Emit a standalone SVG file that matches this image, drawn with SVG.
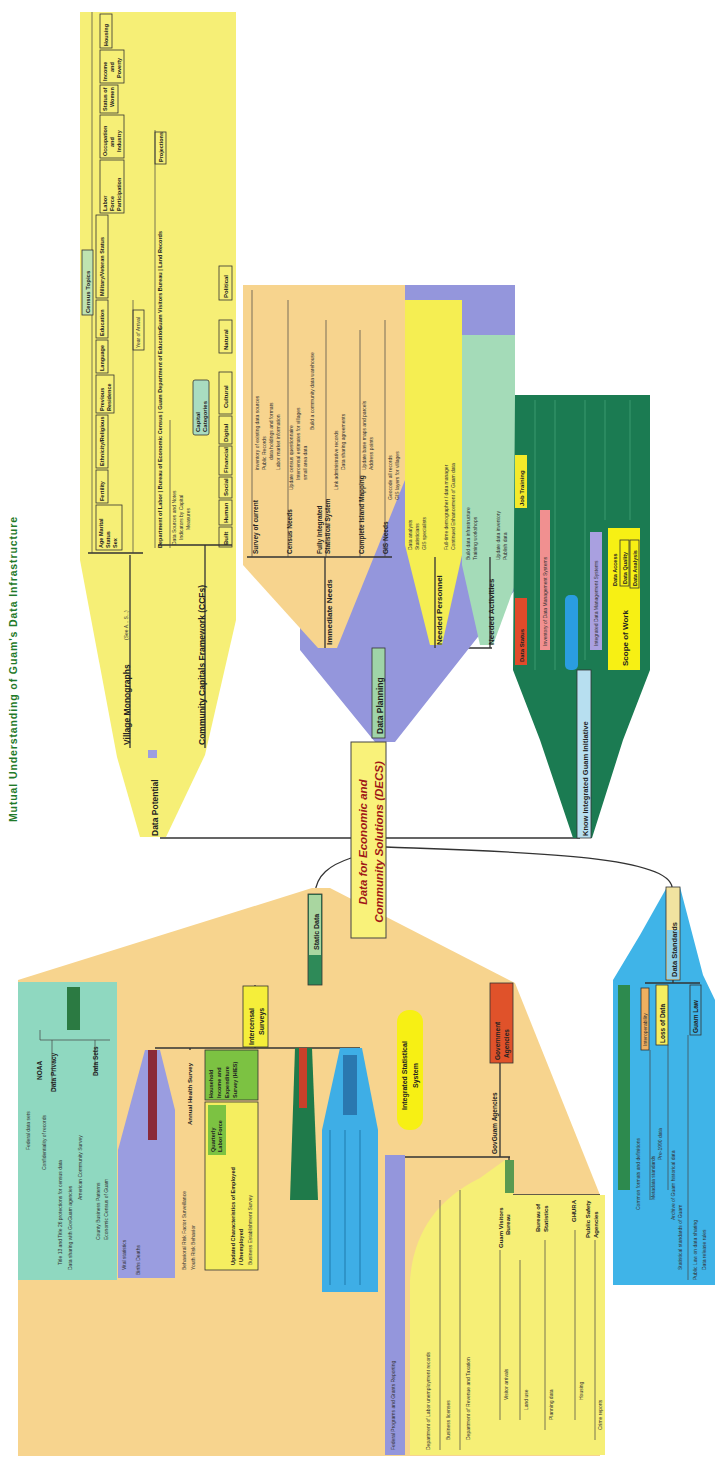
<svg xmlns="http://www.w3.org/2000/svg" width="720" height="1468" viewBox="0 0 720 1468">
<style>
.t{font-family:"Liberation Sans",Arial,sans-serif;font-weight:bold;fill:#222}
.m{font-size:8.5px}
.n{font-size:6.5px}
.s{font-family:"Liberation Sans",Arial,sans-serif;font-size:5px;fill:#333}
.ln{stroke:#333;stroke-width:1.3;fill:none}
.thin{stroke:#444;stroke-width:0.7;fill:none}
.bx{stroke:#333;stroke-width:0.8}
</style>
<rect width="720" height="1468" fill="#fff"/>
<text class="t" transform="translate(17,822) rotate(-90)" font-size="10.5" fill="#1f7a2a" style="fill:#1f7a2a" textLength="305">Mutual Understanding of Guam's Data Infrastructure</text>

<!-- connectors -->
<g id="connectors">
<path class="ln" d="M160,838 H351 M386,838 H580" stroke-width="2"/>
<path class="ln" d="M386,847 C520,852 668,855 672,887" stroke-width="2"/>
<path class="ln" d="M351,858 C330,865 316,875 315,894" stroke-width="1.5"/>
<path class="ln" d="M378,737 V742"/>
<path class="ln" d="M160,748 V837 M128,748 H205"/>
<path class="ln" d="M325,648 H492"/>
<path class="ln" d="M75,985 H510"/>
</g>

<!-- Data Potential -->
<g id="data-potential">
<polygon points="80,12 236,12 236,620 205,755 166,837 140,837 117,757 80,560" fill="#f6ef76"/>
<rect x="148" y="750" width="9" height="8" fill="#9c9ee0"/>
<text class="t m" transform="translate(158,836) rotate(-90)">Data Potential</text>
<path class="ln" d="M130,555 V748 M205,545 V748 M88,553 H143 M158,545 H232"/>
<text class="t" font-size="8.5" transform="translate(130,745) rotate(-90)">Village Monographs</text>
<text class="s" transform="translate(128,640) rotate(-90)">(See A... S...)</text>
<text class="t" font-size="8.5" transform="translate(205,745) rotate(-90)">Community Capitals Framework (CCFs)</text>
<path class="thin" d="M92,553 V12 M133,553 V300"/>
<g class="bxs">
<rect class="bx" x="96" y="505" width="26" height="45" fill="none"/>
<text class="t" font-size="5.5" transform="translate(103,548) rotate(-90)">Age Marital</text>
<text class="t" font-size="5.5" transform="translate(110,548) rotate(-90)">Status</text>
<text class="t" font-size="5.5" transform="translate(117,548) rotate(-90)">Sex</text>
<rect class="bx" x="96" y="470" width="12" height="33" fill="none"/>
<text class="t" font-size="5.5" transform="translate(104,501) rotate(-90)">Fertility</text>
<rect class="bx" x="96" y="415" width="12" height="53" fill="none"/>
<text class="t" font-size="5.5" transform="translate(104,466) rotate(-90)">Ethnicity/Religious</text>
<rect class="bx" x="96" y="375" width="18" height="38" fill="none"/>
<text class="t" font-size="5.5" transform="translate(104,411) rotate(-90)">Previous</text>
<text class="t" font-size="5.5" transform="translate(111,411) rotate(-90)">Residence</text>
<rect class="bx" x="96" y="340" width="12" height="33" fill="none"/>
<text class="t" font-size="5.5" transform="translate(104,371) rotate(-90)">Language</text>
<rect class="bx" x="96" y="300" width="12" height="38" fill="none"/>
<text class="t" font-size="5.5" transform="translate(104,336) rotate(-90)">Education</text>
<rect class="bx" x="96" y="215" width="12" height="83" fill="none"/>
<text class="t" font-size="5.5" transform="translate(104,296) rotate(-90)">Military/Veteran Status</text>
<rect class="bx" x="100" y="160" width="24" height="53" fill="none"/>
<text class="t" font-size="5.5" transform="translate(107,211) rotate(-90)">Labor</text>
<text class="t" font-size="5.5" transform="translate(114,211) rotate(-90)">Force</text>
<text class="t" font-size="5.5" transform="translate(121,211) rotate(-90)">Participation</text>
<rect class="bx" x="100" y="115" width="24" height="43" fill="none"/>
<text class="t" font-size="5.5" transform="translate(107,156) rotate(-90)">Occupation</text>
<text class="t" font-size="5.5" transform="translate(114,147) rotate(-90)">and</text>
<text class="t" font-size="5.5" transform="translate(121,152) rotate(-90)">Industry</text>
<rect class="bx" x="100" y="85" width="18" height="28" fill="none"/>
<text class="t" font-size="5.5" transform="translate(107,111) rotate(-90)">Status of</text>
<text class="t" font-size="5.5" transform="translate(114,107) rotate(-90)">Women</text>
<rect class="bx" x="100" y="50" width="24" height="33" fill="none"/>
<text class="t" font-size="5.5" transform="translate(107,81) rotate(-90)">Income</text>
<text class="t" font-size="5.5" transform="translate(114,72) rotate(-90)">and</text>
<text class="t" font-size="5.5" transform="translate(121,78) rotate(-90)">Poverty</text>
<rect class="bx" x="100" y="14" width="12" height="34" fill="none"/>
<text class="t" font-size="5.5" transform="translate(108,46) rotate(-90)">Housing</text>
</g>
<rect class="bx" x="82" y="250" width="11" height="65" fill="#bfe3b0"/>
<text class="t" font-size="6" transform="translate(90,313) rotate(-90)">Census Topics</text>
<rect class="bx" x="133" y="310" width="11" height="40" fill="none"/>
<text class="s" transform="translate(140,348) rotate(-90)">Year of Arrival</text>
<!-- CCF children -->
<path class="thin" d="M155,548 V130 M170,548 V420"/>
<text class="t" font-size="5.5" transform="translate(162,548) rotate(-90)">Department of Labor | Bureau of Economic Census | Guam Department of Education</text>
<text class="t" font-size="5.5" transform="translate(162,330) rotate(-90)">Guam Visitors Bureau | Land Records</text>
<rect class="bx" x="155" y="132" width="11" height="32" fill="none"/>
<text class="t" font-size="5.5" transform="translate(163,162) rotate(-90)">Projections</text>
<text class="s" transform="translate(176,545) rotate(-90)">Data Sources and Notes</text>
<text class="s" transform="translate(183,540) rotate(-90)">Indicators by Capital</text>
<text class="s" transform="translate(190,530) rotate(-90)">Measures</text>
<rect class="bx" x="193" y="380" width="16" height="55" rx="2" fill="#a9dcc0"/>
<text class="t" font-size="6" transform="translate(200,432) rotate(-90)">Capital</text>
<text class="t" font-size="6" transform="translate(207,432) rotate(-90)">Categories</text>
<g>
<rect class="bx" x="219" y="527" width="13" height="20" fill="none"/>
<text class="t" font-size="6" transform="translate(228,545) rotate(-90)">Built</text>
<rect class="bx" x="219" y="500" width="13" height="25" fill="none"/>
<text class="t" font-size="6" transform="translate(228,523) rotate(-90)">Human</text>
<rect class="bx" x="219" y="477" width="13" height="21" fill="none"/>
<text class="t" font-size="6" transform="translate(228,496) rotate(-90)">Social</text>
<rect class="bx" x="219" y="446" width="13" height="29" fill="none"/>
<text class="t" font-size="6" transform="translate(228,473) rotate(-90)">Financial</text>
<rect class="bx" x="219" y="416" width="13" height="28" fill="none"/>
<text class="t" font-size="6" transform="translate(228,442) rotate(-90)">Digital</text>
<rect class="bx" x="219" y="372" width="13" height="42" fill="none"/>
<text class="t" font-size="6" transform="translate(228,408) rotate(-90)">Cultural</text>
<rect class="bx" x="219" y="320" width="13" height="33" fill="none"/>
<text class="t" font-size="6" transform="translate(228,350) rotate(-90)">Natural</text>
<rect class="bx" x="219" y="266" width="13" height="34" fill="none"/>
<text class="t" font-size="6" transform="translate(228,298) rotate(-90)">Political</text>
</g>
</g>

<!-- Data Planning -->
<g id="data-planning">
<polygon points="375,742 300,650 300,560 400,300 400,285 515,285 515,590 395,742" fill="#9496dc"/>
<polygon points="243,285 405,285 405,480 337,648 318,648 243,565" fill="#f7d48e"/>
<polygon points="405,300 462,300 462,555 442,645 430,645 405,545" fill="#f5ee52"/>
<polygon points="462,335 515,335 515,585 493,645 480,645 462,565" fill="#a4dbb8"/>
<rect class="bx" x="372" y="648" width="13" height="90" fill="#9fd4a8"/>
<text class="t" font-size="8.5" transform="translate(383,734) rotate(-90)">Data Planning</text>
<path class="ln" d="M325,557 V648 M247,557 H392 M435,557 V648 M490,557 V648"/>
<text class="t" font-size="8" transform="translate(332,645) rotate(-90)">Immediate Needs</text>
<text class="t" font-size="8" transform="translate(442,645) rotate(-90)">Needed Personnel</text>
<text class="t" font-size="8" transform="translate(494,645) rotate(-90)">Needed Activities</text>
<path class="thin" d="M252,557 V290 M288,557 V300 M326,557 V320 M360,557 V330 M385,557 V320"/>
<text class="t" font-size="6.5" transform="translate(258,554) rotate(-90)">Survey of current</text>
<text class="t" font-size="6.5" transform="translate(292,554) rotate(-90)">Census Needs</text>
<text class="t" font-size="6.5" transform="translate(322,554) rotate(-90)">Fully Integrated</text>
<text class="t" font-size="6.5" transform="translate(330,554) rotate(-90)">Statistical System</text>
<text class="t" font-size="6.5" transform="translate(364,554) rotate(-90)">Complete Island Mapping</text>
<text class="t" font-size="6.5" transform="translate(388,554) rotate(-90)">GIS Needs</text>
<text class="s" transform="translate(259,470) rotate(-90)">inventory of existing data sources</text>
<text class="s" transform="translate(266,470) rotate(-90)">Public Records</text>
<text class="s" transform="translate(273,460) rotate(-90)">data holdings and formats</text>
<text class="s" transform="translate(280,470) rotate(-90)">Labor market information</text>
<text class="s" transform="translate(293,490) rotate(-90)">Update census questionnaire</text>
<text class="s" transform="translate(300,480) rotate(-90)">Intercensal estimates for villages</text>
<text class="s" transform="translate(307,480) rotate(-90)">small area data</text>
<text class="s" transform="translate(314,430) rotate(-90)">Build a community data warehouse</text>
<text class="s" transform="translate(338,490) rotate(-90)">Link administrative records</text>
<text class="s" transform="translate(345,470) rotate(-90)">Data sharing agreements</text>
<text class="s" transform="translate(366,470) rotate(-90)">Update base maps and parcels</text>
<text class="s" transform="translate(373,470) rotate(-90)">Address points</text>
<text class="s" transform="translate(392,500) rotate(-90)">Geocode all records</text>
<text class="s" transform="translate(399,500) rotate(-90)">GIS layers for villages</text>
<text class="s" transform="translate(412,550) rotate(-90)">Data analysts</text>
<text class="s" transform="translate(419,550) rotate(-90)">Statisticians</text>
<text class="s" transform="translate(426,550) rotate(-90)">GIS specialists</text>
<text class="s" transform="translate(448,550) rotate(-90)">Full-time demographer / data manager</text>
<text class="s" transform="translate(455,550) rotate(-90)">Continued Enhancement of Guam data</text>
<text class="s" transform="translate(470,560) rotate(-90)">Build data infrastructure</text>
<text class="s" transform="translate(477,560) rotate(-90)">Training workshops</text>
<text class="s" transform="translate(500,560) rotate(-90)">Update data inventory</text>
<text class="s" transform="translate(507,560) rotate(-90)">Publish data</text>
</g>

<!-- Know Integrated Guam Initiative -->
<g id="know-guam">
<polygon points="515,395 650,395 650,670 623,740 592,838 573,838 540,740 513,670" fill="#1b7b52"/>
<path d="M535,400 V670 M555,400 V670 M585,400 V660 M605,400 V520 M630,400 V520" stroke="#3a9a6e" stroke-width="1"/>
<rect class="bx" x="577" y="670" width="14" height="168" fill="#b7dff0"/>
<text class="t" font-size="7.5" transform="translate(588,836) rotate(-90)">Know Integrated Guam Initiative</text>
<rect x="515" y="455" width="12" height="53" fill="#f4ea2a"/>
<text class="t" font-size="6" transform="translate(524,506) rotate(-90)">Job Training</text>
<rect x="515" y="598" width="12" height="67" fill="#e04a2a"/>
<text class="t" font-size="6" transform="translate(524,662) rotate(-90)">Data Status</text>
<rect x="540" y="510" width="10" height="140" fill="#f09090"/>
<text class="s" transform="translate(547,646) rotate(-90)">Inventory of Data Management Systems</text>
<rect x="565" y="595" width="13" height="75" rx="5" fill="#2a9de0"/>
<rect x="590" y="532" width="12" height="118" fill="#a9a0e0"/>
<text class="s" transform="translate(598,646) rotate(-90)">Integrated Data Management Systems</text>
<rect x="608" y="528" width="32" height="142" fill="#f7f014"/>
<text class="t" font-size="8" transform="translate(628,666) rotate(-90)">Scope of Work</text>
<text class="t" font-size="5.5" transform="translate(617,586) rotate(-90)">Data Access</text>
<rect class="bx" x="620" y="540" width="9" height="46" fill="none"/>
<text class="t" font-size="5.5" transform="translate(627,584) rotate(-90)">Data Quality</text>
<rect class="bx" x="630" y="540" width="9" height="48" fill="none"/>
<text class="t" font-size="5.5" transform="translate(637,586) rotate(-90)">Data Analysis</text>
</g>

<!-- Static Data -->
<g id="static-data">
<polygon points="312,888 330,888 515,983 600,1195 600,1456 18,1456 18,980" fill="#f7d48e"/>
<rect x="18" y="982" width="99" height="298" fill="#8fd8c0"/>
<polygon points="145,1050 160,1050 175,1110 175,1278 118,1278 118,1150" fill="#9a9de0"/>
<rect x="148" y="1050" width="9" height="90" fill="#8a2a3a"/>
<rect class="bx" x="308" y="894" width="14" height="91" fill="#2e8a58"/>
<rect x="309" y="895" width="12" height="60" fill="#a9d6a0"/>
<text class="t" font-size="7" transform="translate(319,950) rotate(-90)">Static Data</text>
<rect x="67" y="987" width="13" height="43" fill="#2b7a42"/>
<path class="thin" d="M40,1030 V1040 H110 M52,1040 V1090 M95,1040 V1075"/>
<text class="t" font-size="6.5" transform="translate(42,1080) rotate(-90)">NOAA</text>
<text class="t" font-size="6.5" transform="translate(56,1092) rotate(-90)">Data Privacy</text>
<text class="t" font-size="6.5" transform="translate(98,1076) rotate(-90)">Data Sets</text>
<text class="s" transform="translate(30,1150) rotate(-90)">Federal data sets</text>
<text class="s" transform="translate(46,1170) rotate(-90)">Confidentiality of records</text>
<text class="s" transform="translate(62,1265) rotate(-90)">Title 13 and Title 26 protections for census data</text>
<text class="s" transform="translate(72,1270) rotate(-90)">Data sharing with GovGuam agencies</text>
<text class="s" transform="translate(82,1200) rotate(-90)">American Community Survey</text>
<text class="s" transform="translate(100,1240) rotate(-90)">County Business Patterns</text>
<text class="s" transform="translate(108,1240) rotate(-90)">Economic Census of Guam</text>
<text class="s" transform="translate(126,1270) rotate(-90)">Vital statistics</text>
<text class="s" transform="translate(140,1275) rotate(-90)">Births Deaths</text>
<path class="ln" d="M255,985 V1048 M155,1048 H360 M190,1048 V1050"/>
<rect class="bx" x="243" y="986" width="25" height="61" fill="#f5ee3a"/>
<text class="t" font-size="7" transform="translate(254,1045) rotate(-90)">Intercensal</text>
<text class="t" font-size="7" transform="translate(264,1035) rotate(-90)">Surveys</text>
<text class="t" font-size="6" transform="translate(192,1125) rotate(-90)">Annual Health Survey</text>
<text class="s" transform="translate(186,1270) rotate(-90)">Behavioral Risk Factor Surveillance</text>
<text class="s" transform="translate(195,1270) rotate(-90)">Youth Risk Behavior</text>
<rect class="bx" x="205" y="1050" width="53" height="50" fill="#7cc242"/>
<text class="t" font-size="5.5" transform="translate(213,1098) rotate(-90)">Household</text>
<text class="t" font-size="5.5" transform="translate(221,1098) rotate(-90)">Income and</text>
<text class="t" font-size="5.5" transform="translate(229,1098) rotate(-90)">Expenditure</text>
<text class="t" font-size="5.5" transform="translate(237,1098) rotate(-90)">Survey (HIES)</text>
<rect class="bx" x="205" y="1102" width="53" height="168" fill="#f5ee60"/>
<rect x="208" y="1105" width="18" height="50" fill="#7cc242"/>
<text class="t" font-size="5.5" transform="translate(215,1152) rotate(-90)">Quarterly</text>
<text class="t" font-size="5.5" transform="translate(222,1152) rotate(-90)">Labor Force</text>
<text class="t" font-size="5.5" transform="translate(235,1265) rotate(-90)">Updated Characteristics of Employed</text>
<text class="t" font-size="5.5" transform="translate(243,1265) rotate(-90)">/ Unemployed</text>
<text class="s" transform="translate(252,1265) rotate(-90)">Business Establishment Survey</text>
<polygon points="295,1048 312,1048 318,1200 290,1200" fill="#1f7a4a"/>
<rect x="299" y="1048" width="8" height="60" fill="#c8402a"/>
<polygon points="340,1048 362,1048 378,1130 378,1292 322,1292 322,1130" fill="#3eaee6"/>
<rect x="343" y="1055" width="14" height="60" fill="#2a78b0"/>
<path d="M330,1130 V1285 M345,1130 V1285 M360,1130 V1285" stroke="#2a8cc0" stroke-width="1.5"/>
<rect x="397" y="1010" width="26" height="120" rx="12" fill="#f7f014"/>
<text class="t" font-size="7" transform="translate(407,1110) rotate(-90)">Integrated Statistical</text>
<text class="t" font-size="7" transform="translate(418,1088) rotate(-90)">System</text>
<rect class="bx" x="490" y="983" width="23" height="80" fill="#e0522a"/>
<text class="t" font-size="6.5" transform="translate(500,1060) rotate(-90)">Government</text>
<text class="t" font-size="6.5" transform="translate(509,1058) rotate(-90)">Agencies</text>
<path class="ln" d="M500,1063 V1157 M405,1157 H510 M509,1157 V1195 M480,1195 H600"/>
<text class="t" font-size="6.5" transform="translate(497,1154) rotate(-90)">GovGuam Agencies</text>
<rect x="385" y="1155" width="20" height="300" fill="#9496dc"/>
<text class="s" transform="translate(395,1450) rotate(-90)">Federal Programs and Grants Reporting</text>
<path d="M410,1280 Q415,1210 480,1178 L505,1160 L513,1160 L513,1195 L605,1195 L605,1455 L410,1455 Z" fill="#f6ef76"/>
<rect x="505" y="1160" width="9" height="33" fill="#5a9a50"/>
<text class="t" font-size="6" transform="translate(503,1248) rotate(-90)">Guam Visitors</text>
<text class="t" font-size="6" transform="translate(510,1235) rotate(-90)">Bureau</text>
<text class="t" font-size="6" transform="translate(540,1232) rotate(-90)">Bureau of</text>
<text class="t" font-size="6" transform="translate(548,1232) rotate(-90)">Statistics</text>
<text class="t" font-size="6" transform="translate(576,1222) rotate(-90)">GHURA</text>
<text class="t" font-size="6" transform="translate(590,1238) rotate(-90)">Public Safety</text>
<text class="t" font-size="6" transform="translate(598,1238) rotate(-90)">Agencies</text>
<path class="thin" d="M500,1250 V1420 M520,1260 V1420 M545,1240 V1430 M575,1230 V1420 M595,1240 V1440 M440,1200 V1450 M460,1190 V1450"/>
<text class="s" transform="translate(430,1450) rotate(-90)">Department of Labor unemployment records</text>
<text class="s" transform="translate(450,1440) rotate(-90)">Business licenses</text>
<text class="s" transform="translate(470,1440) rotate(-90)">Department of Revenue and Taxation</text>
<text class="s" transform="translate(508,1400) rotate(-90)">Visitor arrivals</text>
<text class="s" transform="translate(528,1410) rotate(-90)">Land use</text>
<text class="s" transform="translate(553,1420) rotate(-90)">Planning data</text>
<text class="s" transform="translate(583,1400) rotate(-90)">Housing</text>
<text class="s" transform="translate(602,1430) rotate(-90)">Crime reports</text>
</g>

<!-- Data Standards -->
<g id="data-standards">
<polygon points="667,887 680,887 703,975 715,1000 715,1285 613,1285 613,980 640,935" fill="#3fb4e8"/>
<rect class="bx" x="666" y="887" width="14" height="93" fill="#f1e3a0"/>
<rect x="667" y="930" width="12" height="49" fill="#8fd0e8"/>
<text class="t" font-size="7.5" transform="translate(677,977) rotate(-90)">Data Standards</text>
<path class="ln" d="M673,980 V983 M645,983 H700"/>
<rect x="618" y="985" width="12" height="205" fill="#2d8a4e"/>
<rect class="bx" x="641" y="988" width="8" height="62" fill="#f0b060"/>
<text class="s" transform="translate(647,1046) rotate(-90)">Interoperability</text>
<rect class="bx" x="656" y="985" width="12" height="60" fill="#f5ee60"/>
<text class="t" font-size="6.5" transform="translate(665,1043) rotate(-90)">Loss of Data</text>
<rect class="bx" x="690" y="985" width="11" height="50" fill="none"/>
<text class="t" font-size="6.5" transform="translate(698,1033) rotate(-90)">Guam Law</text>
<path class="thin" d="M650,1050 V1200 M668,1045 V1190 M688,1035 V1280"/>
<text class="s" transform="translate(640,1210) rotate(-90)">Common formats and definitions</text>
<text class="s" transform="translate(655,1200) rotate(-90)">Metadata standards</text>
<text class="s" transform="translate(662,1160) rotate(-90)">Pre-1990 data</text>
<text class="s" transform="translate(675,1220) rotate(-90)">Archive of Guam historical data</text>
<text class="s" transform="translate(682,1270) rotate(-90)">Statistical standards of Guam</text>
<text class="s" transform="translate(697,1280) rotate(-90)">Public Law on data sharing</text>
<text class="s" transform="translate(706,1270) rotate(-90)">Data release rules</text>
</g>

<!-- central node -->
<g id="decs">
<rect x="351" y="742" width="35" height="196" fill="#f9f27a" stroke="#444" stroke-width="1"/>
<text class="t" font-size="11.5" font-style="italic" style="fill:#a01818" text-anchor="middle" transform="translate(367,842) rotate(-90)">Data for Economic and</text>
<text class="t" font-size="11.5" font-style="italic" style="fill:#a01818" text-anchor="middle" transform="translate(383,842) rotate(-90)">Community Solutions (DECS)</text>
</g>
</svg>
